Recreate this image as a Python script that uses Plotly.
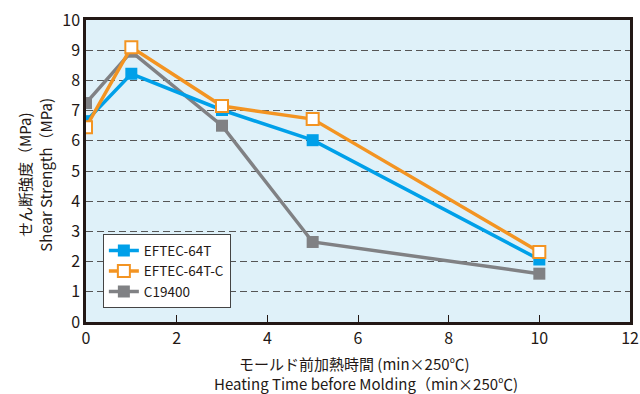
import plotly.graph_objects as go

x_vals = [0, 1, 3, 5, 10]
eftec64t = [6.65, 8.22, 7.02, 6.02, 2.07]
eftec64tc = [6.45, 9.1, 7.15, 6.72, 2.32]
c19400 = [7.25, 8.95, 6.5, 2.65, 1.6]
series_names = ["EFTEC-64T", "EFTEC-64T-C", "C19400"]
x_title = ["モールド前加熱時間 (min×250℃)", "Heating Time before Molding（min×250℃)"]
y_title = ["せん断強度（MPa)", "Shear Strength（MPa)"]

FONT = "Noto Sans CJK JP"

fig = go.Figure()
fig.add_trace(go.Scatter(x=x_vals, y=c19400, name=series_names[2], mode="lines+markers",
                         line=dict(color="#808184", width=3.5),
                         marker=dict(symbol="square", size=12, color="#808184"),
                         legendrank=3))
fig.add_trace(go.Scatter(x=x_vals, y=eftec64t, name=series_names[0], mode="lines+markers",
                         line=dict(color="#00a0e9", width=3.5),
                         marker=dict(symbol="square", size=12, color="#00a0e9"),
                         legendrank=1))
fig.add_trace(go.Scatter(x=x_vals, y=eftec64tc, name=series_names[1], mode="lines+markers",
                         line=dict(color="#f39422", width=3.5),
                         marker=dict(symbol="square", size=12, color="white",
                                     line=dict(color="#f39422", width=2)),
                         legendrank=2))

title_font = dict(family=FONT, size=15, color="#231815")
annotations = [
    dict(text=x_title[0], xref="paper", yref="paper", x=0.493, y=-0.136,
         xanchor="center", yanchor="middle", showarrow=False, font=title_font),
    dict(text=x_title[1], xref="paper", yref="paper", x=0.515, y=-0.204,
         xanchor="center", yanchor="middle", showarrow=False, font=title_font),
    dict(text=y_title[0], xref="paper", yref="paper", x=-0.112, y=0.487,
         xanchor="center", yanchor="middle", showarrow=False, textangle=-90, font=title_font),
    dict(text=y_title[1], xref="paper", yref="paper", x=-0.074, y=0.487,
         xanchor="center", yanchor="middle", showarrow=False, textangle=-90, font=title_font),
]

fig.update_layout(
    width=640, height=394,
    margin=dict(l=86, r=10, t=20, b=72, autoexpand=False),
    paper_bgcolor="white",
    plot_bgcolor="#dff1f9",
    font=dict(family=FONT, size=16, color="#231815"),
    showlegend=True,
    annotations=annotations,
    legend=dict(x=0.031, y=0.046, xanchor="left", yanchor="bottom",
                bgcolor="white", bordercolor="#444", borderwidth=1,
                font=dict(size=13.5), traceorder="normal",
                tracegroupgap=0, itemwidth=30),
    xaxis=dict(range=[0, 12], tickvals=[0, 2, 4, 6, 8, 10, 12],
               ticks="inside", ticklen=7, tickwidth=1, tickcolor="#231815",
               showline=True, linecolor="#231815", linewidth=2.5, mirror=True,
               showgrid=False, zeroline=False, automargin=False),
    yaxis=dict(range=[0, 10], tickvals=list(range(0, 11)),
               ticks="", showline=True, linecolor="#231815", linewidth=2.5, mirror=True,
               showgrid=True, gridcolor="#555", griddash="7px,4px", gridwidth=1,
               zeroline=False, automargin=False),
)

fig.write_html("out.html")
